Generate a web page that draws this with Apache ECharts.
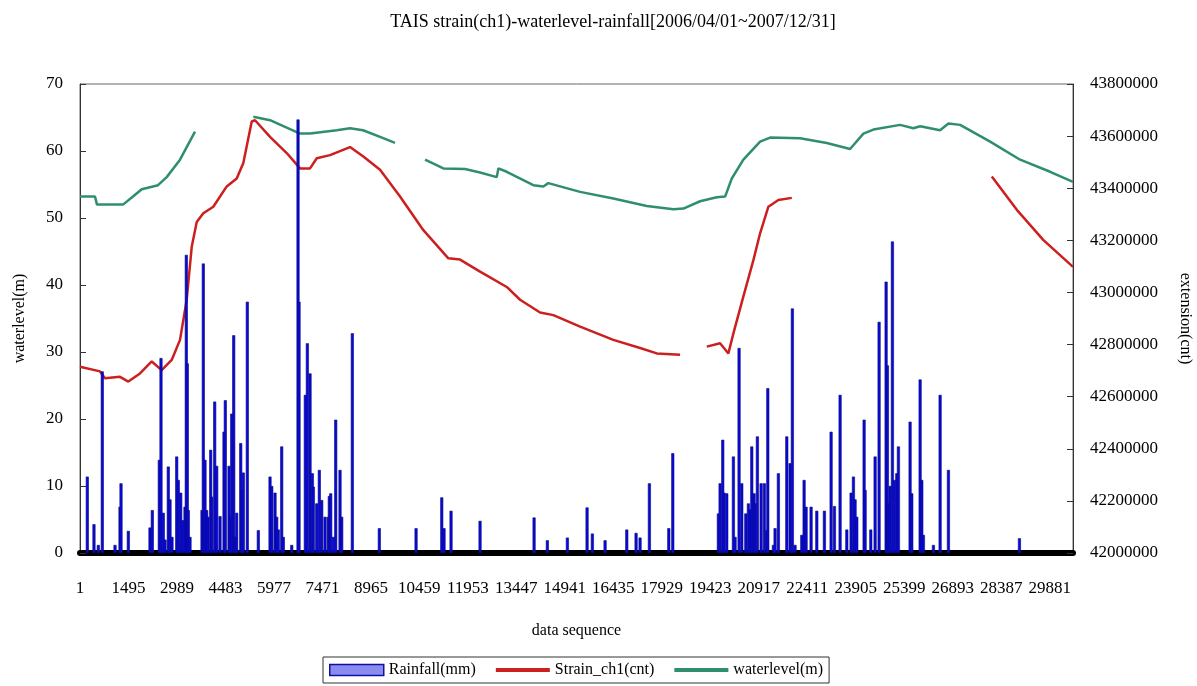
<!DOCTYPE html>
<html>
<head>
<meta charset="utf-8">
<script src="https://cdn.jsdelivr.net/npm/echarts@6/dist/echarts.min.js"></script>
<style>
html, body { margin: 0; padding: 0; background: #fff; }
#main { width: 1197px; height: 686px; }
</style>
</head>
<body>
<div id="main"></div>
<script>
// data sequence positions and values
var seqStep = 1494;
var seqMax = 30600;

// rainfall (mm), left axis
var rainSeq = [225, 431, 564, 687, 1079, 1233, 1264, 1489, 2157, 2228, 2444, 2496, 2567, 2620, 2721, 2774, 2835, 2980, 3030, 3104,
  3165, 3236, 3276, 3307, 3338, 3390, 3760, 3800, 3852, 3905, 3945, 4028, 4059, 4151, 4213, 4315, 4438, 4478, 4592, 4623,
  4675, 4737, 4777, 4829, 4953, 4983, 5033, 5156, 5495, 5856, 5909, 6010, 6062, 6112, 6216, 6266, 6525, 6719, 6750, 6944,
  7006, 7089, 7160, 7191, 7295, 7375, 7449, 7551, 7652, 7683, 7726, 7807, 7880, 8013, 8065, 8392, 9224, 10356, 11148, 11218,
  11434, 12328, 13993, 14402, 15019, 15626, 15789, 16181, 16849, 17136, 17259, 17546, 18144, 18267, 19672, 19725, 19807, 19848, 19931, 20135,
  20187, 20310, 20393, 20517, 20597, 20649, 20701, 20772, 20804, 20874, 20989, 21090, 21163, 21195, 21368, 21419, 21521, 21780, 21882, 21952,
  22035, 22242, 22314, 22375, 22529, 22705, 22939, 23146, 23248, 23423, 23630, 23762, 23834, 23885, 23938, 24163, 24194, 24369, 24502, 24625,
  24841, 24881, 24912, 24964, 25035, 25097, 25170, 25220, 25580, 25632, 25889, 25941, 25990, 26299, 26505, 26761, 28950];
var rainMm = [11.4, 4.3, 1.2, 27.1, 1.2, 6.9, 10.4, 3.3, 3.8, 6.4, 13.9, 29.1, 6.0, 2.0, 12.9, 8.0, 2.4, 14.4, 10.9, 9.0,
  4.9, 6.9, 44.5, 28.3, 6.4, 2.4, 6.4, 43.2, 13.9, 6.4, 5.4, 15.4, 8.4, 22.6, 13.0, 5.5, 18.1, 22.8, 13.0, 5.4,
  20.8, 32.5, 2.4, 6.0, 16.4, 9.4, 12.0, 37.5, 3.4, 11.4, 10.0, 9.0, 5.4, 3.5, 15.9, 2.4, 1.2, 64.7, 37.5, 23.6,
  31.3, 26.8, 11.9, 9.9, 7.4, 12.4, 7.9, 5.4, 5.4, 8.5, 8.9, 2.4, 19.9, 12.4, 5.4, 32.8, 3.7, 3.7, 8.3, 3.7,
  6.3, 4.8, 5.3, 1.9, 2.3, 6.8, 2.9, 1.9, 3.5, 3.0, 2.3, 10.4, 3.7, 14.9, 5.9, 10.4, 16.9, 9.0, 8.9, 14.4,
  2.4, 30.6, 10.4, 5.9, 7.4, 6.5, 15.9, 8.9, 7.4, 17.4, 10.4, 10.4, 3.4, 24.6, 1.2, 3.7, 11.9, 17.4, 13.4, 36.5,
  1.2, 2.7, 10.9, 6.9, 6.9, 6.3, 6.3, 18.1, 7.0, 23.6, 3.5, 9.0, 11.4, 8.0, 5.4, 19.9, 9.4, 3.5, 14.4, 34.5,
  40.5, 28.0, 7.4, 10.0, 46.5, 10.9, 11.9, 15.9, 19.6, 8.9, 25.9, 10.9, 2.7, 1.2, 23.6, 12.4, 2.2];

// strain ch1 (cnt), right axis; null = no data
var strainSeq = [0, 616, 770, 1233, 1489, 1849, 2210, 2518, 2826, 3082, 3288, 3443, 3597, 3800, 4108, 4521, 4829, 5033, 5292, 5394,
  5856, 6370, 6780, 7089, 7295, 7705, 8321, 8731, 9246, 9862, 10581, 11351, 11712, 12328, 13151, 13561, 14177, 14587, 15410, 16436,
  17259, 17774, 18492, 18900, 19315, 19725, 19980, 20135, 20443, 20751, 20958, 21213, 21521, 21934, 25000, 28098, 28869, 29689, 30600];
var strainVal = [42715000, 42697000, 42671000, 42676000, 42658000, 42689000, 42735000, 42702000, 42741000, 42818000, 42972000, 43175000, 43270000, 43304000, 43329000, 43407000, 43437000, 43497000, 43656000, 43661000,
  43597000, 43535000, 43476000, 43476000, 43515000, 43527000, 43558000, 43522000, 43471000, 43368000, 43239000, 43131000, 43126000, 43080000, 43021000, 42972000, 42923000, 42913000, 42869000, 42818000,
  42787000, 42766000, 42761000, null, 42792000, 42805000, 42766000, 42843000, 42985000, 43124000, 43227000, 43329000, 43355000, 43363000, null, 43445000, 43317000, 43201000, 43098000];

// waterlevel (m), left axis; null = no data
var levelSeq = [0, 462, 524, 1325, 1633, 1902, 2404, 2672, 3082, 3544, 4400, 5341, 5856, 6780, 7089, 7912, 8321, 8722, 9246, 9708,
  10200, 10633, 11197, 11866, 12328, 12843, 12892, 13151, 13971, 14279, 14433, 15410, 16436, 17466, 18286, 18594, 19108, 19622, 19879, 20085,
  20443, 20958, 21266, 22190, 23013, 23731, 24141, 24450, 25272, 25682, 25889, 26505, 26761, 27122, 28046, 28971, 29895, 30600];
var levelVal = [53.2, 53.2, 52.0, 52.0, 53.2, 54.3, 54.9, 56.1, 58.7, 62.9, null, 65.1, 64.6, 62.6, 62.6, 63.1, 63.4, 63.1, 62.1, 61.2,
  null, 58.7, 57.4, 57.3, 56.8, 56.1, 57.4, 56.9, 54.9, 54.7, 55.2, 53.9, 52.9, 51.8, 51.3, 51.4, 52.5, 53.1, 53.2, 55.9,
  58.7, 61.4, 62.0, 61.9, 61.2, 60.3, 62.6, 63.2, 63.9, 63.4, 63.7, 63.1, 64.1, 63.9, 61.4, 58.7, 56.9, 55.4];

function pairs(xs, ys) {
  return xs.map(function (x, i) { return [x, ys[i] === null ? '-' : ys[i]]; });
}

var serif = '"Liberation Serif", "DejaVu Serif", serif';
var lineIcon = 'path://M0,0L40,0L40,3L0,3Z';

var myChart = echarts.init(document.getElementById('main'));

var option = {
  backgroundColor: '#fff',
  animation: false,
  textStyle: { fontFamily: serif, color: '#000' },
  title: {
    text: 'TAIS strain(ch1)-waterlevel-rainfall[2006/04/01~2007/12/31]',
    left: 608,
    textAlign: 'center',
    top: 8,
    textStyle: { fontFamily: serif, fontSize: 18, fontWeight: 'normal', color: '#000' }
  },
  grid: {
    left: 80, right: 124, top: 84, bottom: 133,
    outerBoundsMode: 'none',
    show: true, borderColor: '#666', borderWidth: 1, backgroundColor: '#fff'
  },
  legend: {
    bottom: 3,
    left: 323,
    padding: [5, 6],
    itemGap: 20,
    itemWidth: 54,
    itemHeight: 11,
    borderColor: '#333',
    borderWidth: 1,
    textStyle: { fontFamily: serif, fontSize: 16, color: '#000' },
    data: [
      { name: 'Rainfall(mm)', icon: 'rect', itemStyle: { color: '#8c8cf0', borderColor: '#1010a0', borderWidth: 1.5 } },
      { name: 'Strain_ch1(cnt)', icon: lineIcon, itemStyle: { color: '#cc1f1f' } },
      { name: 'waterlevel(m)', icon: lineIcon, itemStyle: { color: '#2f8f6c' } }
    ]
  },
  xAxis: {
    type: 'value',
    min: 0,
    max: seqMax,
    interval: seqStep,
    name: 'data sequence',
    nameLocation: 'middle',
    nameGap: 70,
    nameTextStyle: { fontFamily: serif, fontSize: 16, color: '#000' },
    axisLine: { lineStyle: { color: '#000', width: 6 } },
    axisTick: { show: false },
    splitLine: { show: false },
    axisLabel: {
      margin: 27,
      fontFamily: serif,
      fontSize: 17,
      color: '#000',
      showMaxLabel: false,
      formatter: function (v) { return v % seqStep === 0 ? String(v + 1) : ''; }
    }
  },
  yAxis: [
    {
      type: 'value',
      min: 0, max: 70, interval: 10,
      name: 'waterlevel(m)',
      nameLocation: 'middle',
      nameGap: 52,
      nameTextStyle: { fontFamily: serif, fontSize: 16, color: '#000' },
      axisLine: { show: true, lineStyle: { color: '#333', width: 1 } },
      axisTick: { show: true, inside: true, length: 6, lineStyle: { color: '#333' } },
      splitLine: { show: false },
      axisLabel: { margin: 17, fontFamily: serif, fontSize: 17, color: '#000' }
    },
    {
      type: 'value',
      position: 'right',
      min: 42000000, max: 43800000, interval: 200000,
      name: 'extension(cnt)',
      nameLocation: 'middle',
      nameRotate: -90,
      nameGap: 104,
      nameTextStyle: { fontFamily: serif, fontSize: 16, color: '#000' },
      axisLine: { show: true, lineStyle: { color: '#333', width: 1 } },
      axisTick: { show: true, inside: true, length: 6, lineStyle: { color: '#333' } },
      splitLine: { show: false },
      axisLabel: {
        margin: 17, fontFamily: serif, fontSize: 17, color: '#000',
        formatter: function (v) { return String(v); }
      }
    }
  ],
  series: [
    {
      name: 'Rainfall(mm)',
      type: 'bar',
      yAxisIndex: 0,
      barWidth: 3,
      z: 3,
      itemStyle: { color: '#0808dc', borderColor: '#0b0b78', borderWidth: 0.6 },
      data: pairs(rainSeq, rainMm)
    },
    {
      name: 'Strain_ch1(cnt)',
      type: 'line',
      yAxisIndex: 1,
      symbol: 'none',
      z: 2,
      lineStyle: { color: '#cc1f1f', width: 2.5 },
      itemStyle: { color: '#cc1f1f' },
      data: pairs(strainSeq, strainVal)
    },
    {
      name: 'waterlevel(m)',
      type: 'line',
      yAxisIndex: 0,
      symbol: 'none',
      z: 2,
      lineStyle: { color: '#2f8f6c', width: 2.5 },
      itemStyle: { color: '#2f8f6c' },
      data: pairs(levelSeq, levelVal)
    }
  ]
};

myChart.setOption(option);
</script>
</body>
</html>
